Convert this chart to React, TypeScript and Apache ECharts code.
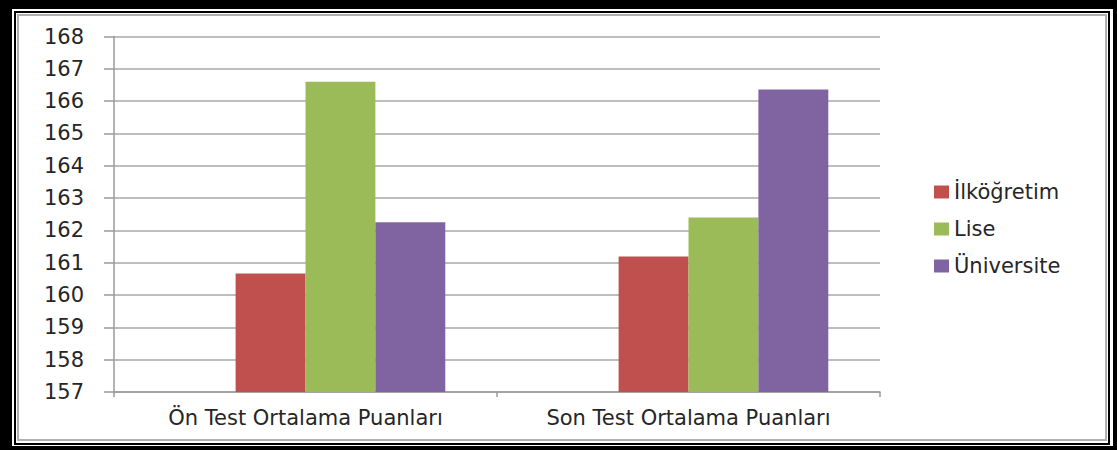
import React, { useEffect, useRef } from "react";
import * as echarts from "echarts";

const categories = ["Ön Test Ortalama Puanları", "Son Test Ortalama Puanları"];
const seriesNames = ["İlköğretim", "Lise", "Üniversite"];
const bosluk: (number | null)[] = [null, null];
const ilkogretim = [160.67, 161.19];
const lise = [166.6, 162.4];
const universite = [162.25, 166.36];
const colors = ["#C0504D", "#9BBB59", "#8064A2"];
const yMin = 157;
const yMax = 168;

const FONT = "DejaVu Sans";

export default function App() {
  const ref = useRef<HTMLDivElement>(null);
  useEffect(() => {
    document.body.style.margin = "0";
    const chart = echarts.init(ref.current!, null, { renderer: "svg" });
    const values = [ilkogretim, lise, universite];
    chart.setOption({
      animation: false,
      backgroundColor: "transparent",
      textStyle: { fontFamily: FONT },
      grid: { left: 114, right: 237, top: 36.5, bottom: 58 },
      legend: {
        orient: "vertical",
        left: 929,
        top: 176,
        itemWidth: 15,
        itemHeight: 13,
        itemGap: 15,
        icon: "rect",
        textStyle: { fontSize: 21, lineHeight: 22, color: "#262626", fontFamily: FONT },
        data: seriesNames,
      },
      xAxis: {
        type: "category",
        data: categories,
        axisLine: { lineStyle: { color: "#9a9a9a", width: 1.5 } },
        axisTick: { show: true, length: 5, lineStyle: { color: "#9a9a9a", width: 1.5 } },
        axisLabel: { fontSize: 21, color: "#262626", margin: 15, fontFamily: FONT },
      },
      yAxis: {
        type: "value",
        min: yMin,
        max: yMax,
        interval: 1,
        axisLine: { show: true, lineStyle: { color: "#9a9a9a", width: 1.5 } },
        axisTick: { show: true, inside: false, length: 10, lineStyle: { color: "#9a9a9a", width: 1.5 } },
        splitLine: { lineStyle: { color: "#a8a8a8", width: 1.5 } },
        axisLabel: { fontSize: 21, color: "#262626", margin: 30, fontFamily: FONT },
      },
      series: [
        {
          name: "bosluk",
          type: "bar",
          data: bosluk,
          barGap: "0%",
          barCategoryGap: "27%",
          silent: true,
        },
        ...seriesNames.map((name, i) => ({
          name,
          type: "bar",
          data: values[i],
          barGap: "0%",
          barCategoryGap: "27%",
          itemStyle: { color: colors[i] },
        })),
      ],
    });
    return () => chart.dispose();
  }, []);

  const abs = (s: React.CSSProperties): React.CSSProperties => ({ position: "absolute", boxSizing: "border-box", ...s });

  return (
    <div style={{ position: "absolute", left: 0, top: 0, width: 1117, height: 450, background: "#000", overflow: "hidden" }}>
      <div style={abs({ left: 12, top: 9, width: 1101, height: 437, background: "#fff" })} />
      <div style={abs({ left: 14, top: 11, width: 1096, height: 434, border: "2px solid #000" })} />
      <div style={abs({ left: 17, top: 14, width: 1090, height: 427, border: "2px solid #b0b0b0" })} />
      <div ref={ref} style={abs({ left: 0, top: 0, width: 1117, height: 450 })} />
    </div>
  );
}
